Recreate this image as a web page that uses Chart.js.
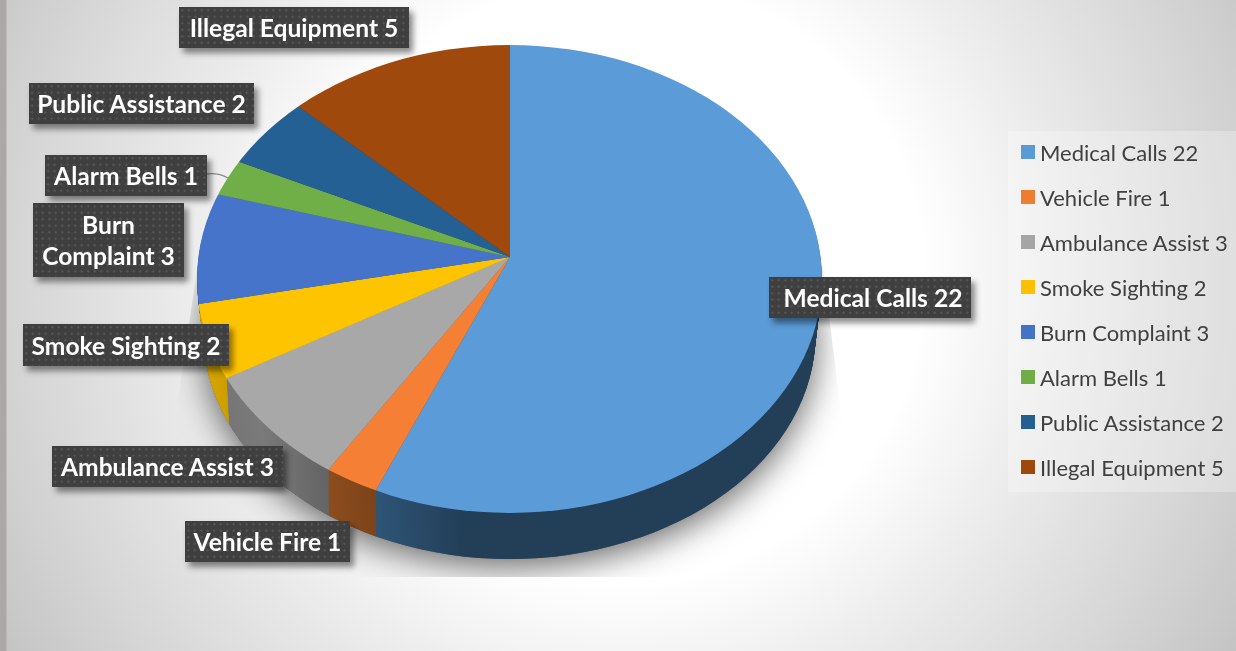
<!DOCTYPE html>
<html>
<head>
<meta charset="utf-8">
<title>Calls by type</title>
<script src="https://cdn.jsdelivr.net/npm/chart.js@4"></script>
<style>
  html, body { margin: 0; padding: 0; width: 1236px; height: 651px; overflow: hidden; }
  body {
    position: relative;
    font-family: Lato, "Open Sans", sans-serif;
    background:
      linear-gradient(to right, #aca8a8 6px, transparent 7px),
      radial-gradient(circle 720px at 620px 280px, #fff 0%, #fff 42%, #ececec 60%, #d6d6d6 83%, #c4c4c4 100%);
  }
  canvas { position: absolute; left: 0; top: 0; display: block; }
  .tag {
    position: absolute;
    box-sizing: border-box;
    display: flex;
    align-items: center;
    justify-content: center;
    text-align: center;
    color: #fff;
    font-weight: 700;
    font-size: 24.6px;
    line-height: 31px;
    background-color: #3f3f3f;
    background-image: radial-gradient(circle, #565656 1px, transparent 1.3px);
    background-size: 6.5px 6.5px;
    box-shadow: 4px 5px 6px rgba(0, 0, 0, 0.45);
  }
  #legend {
    position: absolute;
    left: 1008px;
    top: 131px;
    width: 228px;
    height: 361px;
    background: rgba(255, 255, 255, 0.28);
  }
  .row { position: absolute; left: 13px; height: 30px; display: flex; align-items: center; color: #404040; font-size: 22px; white-space: nowrap; }
  .swatch { width: 14px; height: 14px; margin-right: 5px; flex: none; }
</style>
</head>
<body>
<canvas id="pie" width="1236" height="651"></canvas>
<div id="legend"></div>
<script>
const categories = ['Medical Calls', 'Vehicle Fire', 'Ambulance Assist', 'Smoke Sighting', 'Burn Complaint', 'Alarm Bells', 'Public Assistance', 'Illegal Equipment'];
const calls = [22, 1, 3, 2, 3, 1, 2, 5];
const legendColors = ['#5b9bd5', '#ed7d31', '#a5a5a5', '#ffc000', '#4472c4', '#70ad47', '#255e91', '#9e480e'];
const topColors = ['#5b9bd8', '#f58035', '#a8a8a8', '#ffc400', '#4774cb', '#70af48', '#256094', '#a0490d'];

// side wall shading, left to right in page pixels
const wallStops = [
  [[378, '#2e5476'], [460, '#233f58']],
  [[330, '#8c4c1c'], [380, '#7a421a']],
  [[225, '#767676'], [262, '#7a7a7a'], [300, '#6e6e6e'], [332, '#626262']],
  [[205, '#d5a300'], [235, '#c89c00']],
  [[0, '#2f4a80'], [1, '#2f4a80']],
  [[0, '#4a7530'], [1, '#4a7530']],
  [[0, '#183f61'], [1, '#183f61']],
  [[0, '#6a3009'], [1, '#6a3009']]
];

// label boxes: left, top, width, height, extra left padding
const tagBoxes = [
  [769, 277, 202, 41, 6],
  [185, 521, 165, 41, 0],
  [52, 446, 231, 41, 0],
  [23, 324, 206, 42, 0],
  [33, 203, 151, 74, 0],
  [45, 155, 162, 41, 0],
  [29, 83, 225, 41, 0],
  [179, 7, 230, 41, 0]
];

// the pie is tilted: the slices meet above the middle of the top ellipse
const apex = { x: 510, y: 257 };
const topEllipse = { cx: 509.5, cy: 279, rx: 312.5, ry: 234 };
const bottomEllipse = { cx: 509.5, cy: 334, rx: 306, ry: 225 };
const depth = 46;
const scaleX = 1.148;
const scaleY = 0.85;

function ellipseAt(t) {
  return {
    cx: topEllipse.cx,
    cy: topEllipse.cy + (bottomEllipse.cy - topEllipse.cy) * t,
    rx: topEllipse.rx + (bottomEllipse.rx - topEllipse.rx) * t,
    ry: topEllipse.ry + (bottomEllipse.ry - topEllipse.ry) * t
  };
}

function clipEllipse(ctx, e) {
  ctx.beginPath();
  ctx.ellipse(e.cx, e.cy, e.rx, e.ry, 0, 0, Math.PI * 2);
  ctx.clip();
}

function toPieSpace(ctx, arc, t) {
  const k = ellipseAt(t).rx / topEllipse.rx;
  ctx.translate(apex.x, apex.y + depth * t);
  ctx.scale(scaleX * k, scaleY * k);
  ctx.translate(-arc.x, -arc.y);
}

function drawShadow(ctx) {
  ctx.save();
  ctx.beginPath();
  ctx.moveTo(197, 270);
  ctx.lineTo(175, 420);
  ctx.lineTo(175, 577);
  ctx.lineTo(842, 577);
  ctx.lineTo(842, 420);
  ctx.lineTo(822, 260);
  ctx.closePath();
  ctx.clip();
  ctx.shadowColor = 'rgba(0, 0, 0, 0.6)';
  ctx.shadowBlur = 34;
  ctx.shadowOffsetY = 8;
  ctx.fillStyle = '#555';
  ctx.beginPath();
  ctx.ellipse(bottomEllipse.cx, bottomEllipse.cy, bottomEllipse.rx, bottomEllipse.ry, 0, 0, Math.PI * 2);
  ctx.fill();
  ctx.restore();
}

function drawWalls(chart) {
  const ctx = chart.ctx;
  const arcs = chart.getDatasetMeta(0).data;
  const ref = arcs[0];
  // gradient coords are given in page x, converted to the arc's own space
  const fills = wallStops.map(stops => {
    const toLocal = px => ref.x + (px - apex.x) / scaleX;
    const g = ctx.createLinearGradient(toLocal(stops[0][0]), 0, toLocal(stops[stops.length - 1][0]), 0);
    stops.forEach((s, i) => g.addColorStop(i / (stops.length - 1), s[1]));
    return g;
  });
  for (let i = depth; i >= 1; i--) {
    const t = i / depth;
    ctx.save();
    clipEllipse(ctx, ellipseAt(t));
    toPieSpace(ctx, ref, t);
    arcs.forEach((arc, idx) => {
      const layer = Object.create(arc);
      layer.options = Object.assign({}, arc.options, { backgroundColor: fills[idx] });
      layer.draw(ctx);
    });
    ctx.restore();
  }
}

const tiltedPie = {
  id: 'tiltedPie',
  beforeDatasetsDraw(chart) {
    const ctx = chart.ctx;
    drawShadow(ctx);
    drawWalls(chart);
    ctx.save();
    clipEllipse(ctx, topEllipse);
    toPieSpace(ctx, chart.getDatasetMeta(0).data[0], 0);
  },
  afterDatasetsDraw(chart) {
    const ctx = chart.ctx;
    ctx.restore();
    // leader line for Alarm Bells
    ctx.strokeStyle = '#8a8a8a';
    ctx.lineWidth = 1.2;
    ctx.beginPath();
    ctx.moveTo(207, 174);
    ctx.bezierCurveTo(215, 173, 221, 174, 228, 178);
    ctx.stroke();
  }
};

new Chart(document.getElementById('pie'), {
  type: 'pie',
  data: {
    labels: categories,
    datasets: [{ data: calls, backgroundColor: topColors, borderWidth: 0 }]
  },
  options: {
    responsive: false,
    animation: false,
    layout: { padding: 0 },
    plugins: { legend: { display: false }, tooltip: { enabled: false } }
  },
  plugins: [tiltedPie]
});

// data labels and legend as plain HTML
categories.forEach((name, i) => {
  const b = tagBoxes[i];
  const tag = document.createElement('div');
  tag.className = 'tag';
  tag.style.cssText = `left:${b[0]}px;top:${b[1]}px;width:${b[2]}px;height:${b[3]}px;padding-left:${b[4]}px`;
  tag.textContent = name + ' ' + calls[i];
  document.body.appendChild(tag);

  const row = document.createElement('div');
  row.className = 'row';
  row.style.top = (6 + i * 45) + 'px';
  const swatch = document.createElement('span');
  swatch.className = 'swatch';
  swatch.style.background = legendColors[i];
  row.appendChild(swatch);
  row.appendChild(document.createTextNode(name + ' ' + calls[i]));
  document.getElementById('legend').appendChild(row);
});
</script>
</body>
</html>
